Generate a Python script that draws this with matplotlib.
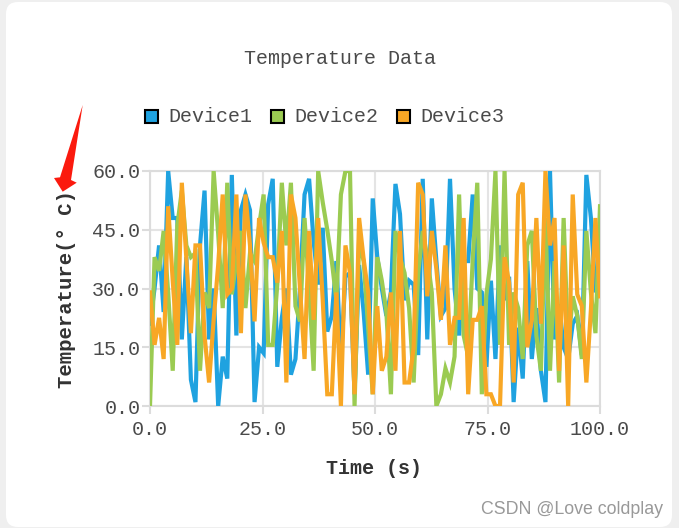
import numpy as np
import matplotlib
matplotlib.use("Agg")
import matplotlib.pyplot as plt
from matplotlib.patches import FancyBboxPatch, Polygon, Rectangle

title = "Temperature Data"
xlabel = "Time (s)"
ylabel = "Temperature(° C)"
series_names = ["Device1", "Device2", "Device3"]
x_ticks = [0, 25, 50, 75, 100]
y_ticks = [0, 15, 30, 45, 60]

device1 = [21, 30, 41, 24, 60, 48, 48, 17, 38, 6.7, 1, 41, 55, 17, 30, 0, 12.6, 7, 59, 18,
           50, 54, 50, 1, 15, 13.5, 51.5, 58, 10, 22.5, 30, 8, 12, 30, 54, 58, 42, 31, 45.5, 19,
           23, 37, 12, 33, 34, 3, 36, 24, 8, 53, 38, 30, 23, 29, 56.7, 49, 27, 32, 31, 13,
           58, 17, 53, 37, 23, 25, 58, 30, 18, 37, 37, 54, 30, 29, 10, 32, 12, 41, 27, 33,
           1, 20, 7, 37, 12, 25, 9, 1, 60, 17, 26, 15, 12, 21, 23, 13, 59, 48, 29, 37]
device2 = [0, 38, 34.5, 44.7, 29, 9, 46, 55, 41, 38, 39, 9, 29, 25, 60, 44, 25, 57, 28.5, 37,
           44.7, 25, 39, 37, 46, 54, 15.6, 15.6, 31, 57, 41, 57, 25.5, 21.6, 48, 30, 9, 60, 52, 45,
           37, 27, 54, 60, 60, 0, 42, 37, 20, 3, 38, 32, 24, 3, 44.7, 38, 34, 25, 6, 34,
           44.7, 38, 29, 0, 3, 9.6, 6, 12.6, 54, 18, 12.6, 37.5, 57, 3, 28.5, 37.5, 60, 15.6, 60, 15.6,
           29, 25, 12, 41, 44.7, 18, 9, 48, 9, 37, 6, 48, 15, 28, 23, 12, 44.7, 29, 18.6, 51]
device3 = [29, 15.6, 22.5, 12, 51, 32, 15.6, 57, 37.5, 18.6, 41, 41, 18, 6, 22, 36, 54, 28.5, 30, 54,
           18.6, 54, 41, 21.6, 48, 41.7, 38, 38, 31.5, 44.7, 6, 54, 48, 30, 12, 44.7, 22, 48, 27, 3,
           3, 29, 0, 41, 34, 3, 48, 37.5, 29, 3, 25.5, 9, 12.6, 29, 9, 44.7, 6, 6, 15, 57,
           54, 28, 44.7, 35, 22, 41, 15.6, 22.5, 22.5, 48, 3, 22, 22, 25.5, 3, 3, 0, 0, 38, 31.5,
           6, 54, 57, 15, 22, 48, 21, 60, 41, 48, 9, 41, 0, 54, 28.5, 25.5, 6, 24.6, 48, 28]
series_values = [device1, device2, device3]
colors = ["#1fa2e0", "#9bcb52", "#f8a725"]

W, H = 679, 528
FONT = "Liberation Mono"
TEXT = "#4a4a4a"

fig = plt.figure(figsize=(W / 100, H / 100), dpi=100, facecolor="#efefef")

bg = fig.add_axes([0, 0, 1, 1], zorder=0)
bg.set_xlim(0, W)
bg.set_ylim(H, 0)
bg.axis("off")
bg.add_patch(FancyBboxPatch((6, 2), 666, 525, boxstyle="round,pad=0,rounding_size=12",
                            fc="white", ec="none"))

ax = fig.add_axes([150 / W, 1 - 406 / H, 450 / W, 235 / H], zorder=1)
ax.patch.set_alpha(0)
xs = np.linspace(0, 100, len(device1))
for vals, c in zip(series_values, colors):
    ax.plot(xs, vals, color=c, lw=3.0, solid_joinstyle="miter", zorder=3)
ax.set_xlim(0, 100)
ax.set_ylim(0, 60)
ax.set_xticks(x_ticks)
ax.set_yticks(y_ticks)
ax.set_xticklabels([f"{v:.1f}" for v in x_ticks], fontfamily=FONT, fontsize=14.4, color=TEXT)
ax.set_yticklabels([f"{v:.1f}" for v in y_ticks], fontfamily=FONT, fontsize=14.4, color=TEXT)
ax.tick_params(axis="y", length=6, width=1.5, color="#dcdcdc", pad=1)
ax.tick_params(axis="x", length=6, width=1.5, color="#dcdcdc", pad=4)
ax.grid(True, color="#e4e4e4", lw=1.5, zorder=1)
ax.set_axisbelow(True)
for s in ax.spines.values():
    s.set_color("#dcdcdc")
    s.set_linewidth(1.5)

fig_txt = dict(fontfamily=FONT, ha="center", va="center")
over = fig.add_axes([0, 0, 1, 1], zorder=2)
over.set_xlim(0, W)
over.set_ylim(H, 0)
over.axis("off")
over.text(340, 58, title, fontsize=14.4, color=TEXT, **fig_txt)
over.text(374, 468, xlabel, fontsize=14.4, fontweight="bold", color="#333333", **fig_txt)
over.text(66, 289, ylabel, fontsize=14.9, fontweight="bold", color="#333333", rotation=90, **fig_txt)

for name, c, sx, tx in zip(series_names, colors, [145, 271, 397], [168, 294, 420]):
    over.add_patch(Rectangle((sx, 110), 12.5, 12.5, fc=c, ec="black", lw=1.5))
    over.text(tx, 116, name, fontsize=14.4, color=TEXT, fontfamily=FONT, ha="left", va="center")

over.add_patch(Polygon([(82.7, 105), (71, 180), (76.7, 182.7), (62.7, 191.7), (54, 178), (60, 177.3)],
                       closed=True, fc="#fb1a0e", ec="none"))
over.text(663, 509, "CSDN @Love coldplay", fontsize=12.8, color="#999999",
          fontfamily="Liberation Sans", ha="right", va="center")

fig.savefig("out.png", dpi=100, facecolor=fig.get_facecolor())
